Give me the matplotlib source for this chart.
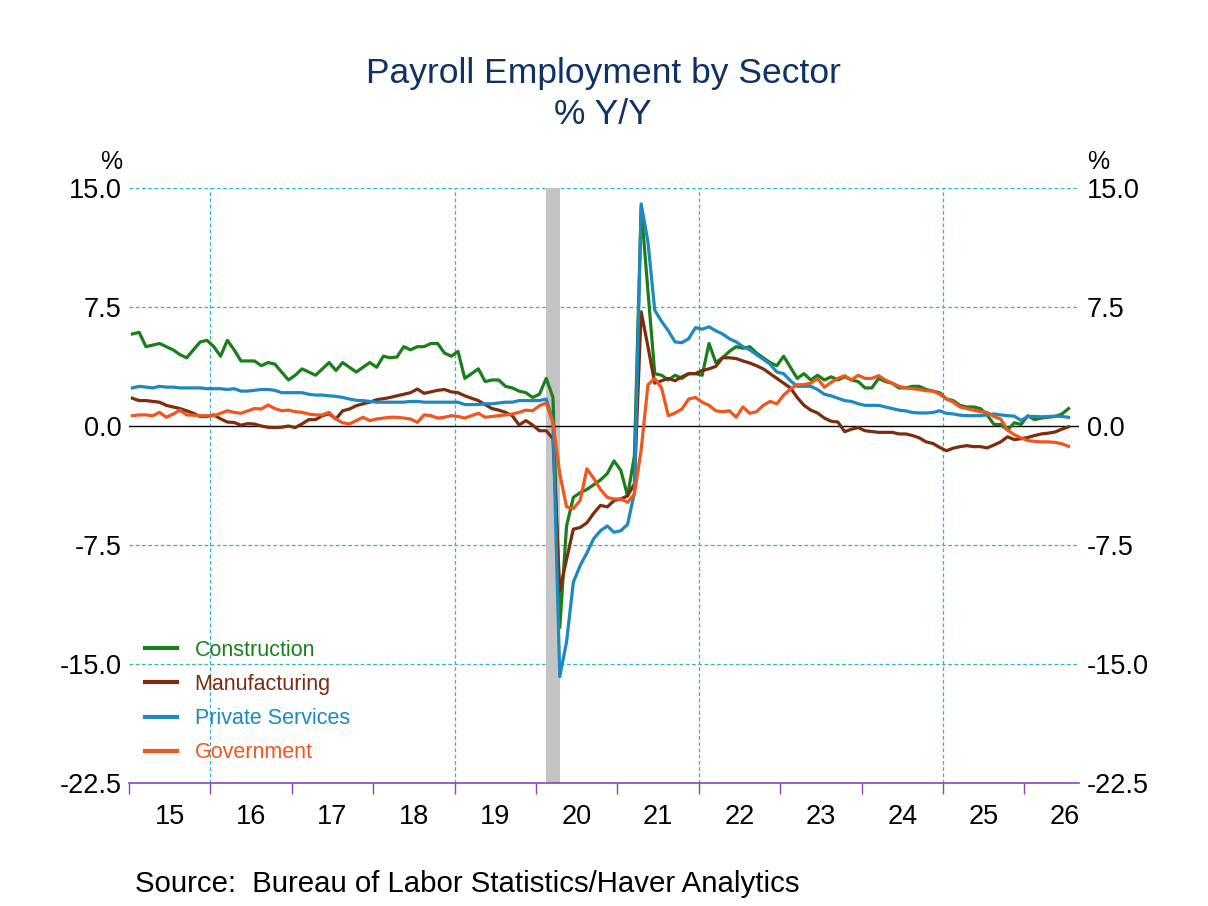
import numpy as np
import matplotlib
matplotlib.use("Agg")
import matplotlib.pyplot as plt
from matplotlib.ticker import FixedLocator, FuncFormatter, NullFormatter

plt.rcParams["font.family"] = ["Liberation Sans", "DejaVu Sans"]
plt.rcParams["axes.unicode_minus"] = False

# Monthly % Y/Y, Jan 2015 .. Jul 2026 (one row per year)
construction = [
    5.8, 5.9, 5.0, 5.1, 5.2, 5.0, 4.8, 4.5, 4.3, 4.8, 5.3, 5.4,
    5.0, 4.4, 5.4, 4.8, 4.1, 4.1, 4.1, 3.8, 4.0, 3.9, 3.4, 2.9,
    3.2, 3.6, 3.4, 3.2, 3.6, 4.0, 3.5, 4.0, 3.7, 3.4, 3.7, 4.0,
    3.7, 4.4, 4.3, 4.35, 5.0, 4.8, 5.0, 5.0, 5.2, 5.2, 4.6, 4.4,
    4.7, 3.0, 3.3, 3.6, 2.8, 2.9, 2.9, 2.5, 2.4, 2.2, 2.1, 1.8,
    2.0, 3.0, 1.8, -12.7, -6.3, -4.5, -4.2, -4.0, -3.7, -3.4, -3.0, -2.2,
    -2.8, -4.4, -1.9, 13.8, 8.5, 3.3, 3.2, 2.9, 3.2, 3.0, 3.3, 3.3,
    3.2, 5.2, 4.0, 4.3, 4.7, 5.0, 4.9, 5.0, 4.6, 4.3, 4.0, 3.8,
    4.4, 3.7, 3.0, 3.3, 2.9, 3.2, 2.9, 3.1, 2.9, 3.1, 2.9, 2.8,
    2.4, 2.4, 3.0, 2.8, 2.7, 2.4, 2.4, 2.5, 2.5, 2.3, 2.2, 2.1,
    1.7, 1.6, 1.3, 1.2, 1.2, 1.1, 0.7, 0.1, 0.1, -0.25, 0.2, 0.1,
    0.65, 0.4, 0.5, 0.55, 0.6, 0.75, 1.1,
]
manufacturing = [
    1.75, 1.6, 1.6, 1.55, 1.5, 1.3, 1.2, 1.1, 0.96, 0.8, 0.6, 0.6,
    0.7, 0.45, 0.25, 0.22, 0.05, 0.15, 0.12, 0.0, -0.08, -0.1, -0.08, 0.0,
    -0.1, 0.13, 0.4, 0.4, 0.65, 0.77, 0.44, 0.96, 1.07, 1.28, 1.4, 1.5,
    1.66, 1.72, 1.8, 1.9, 2.0, 2.1, 2.33, 2.06, 2.15, 2.25, 2.3, 2.15,
    2.1, 1.9, 1.75, 1.6, 1.35, 1.1, 1.0, 0.86, 0.65, 0.06, 0.34, 0.06,
    -0.3, -0.3, -0.8, -10.4, -8.4, -6.5, -6.4, -6.1, -5.5, -5.0, -5.1, -4.7,
    -4.6, -4.4, -3.65, 7.2, 5.0, 2.7, 2.85, 3.0, 2.85, 3.1, 3.3, 3.3,
    3.5, 3.6, 3.76, 4.3, 4.3, 4.25, 4.1, 3.97, 3.8, 3.6, 3.3, 3.0,
    2.7, 2.4, 1.8, 1.3, 1.0, 0.82, 0.5, 0.3, 0.25, -0.36, -0.2, -0.1,
    -0.3, -0.35, -0.4, -0.4, -0.4, -0.5, -0.5, -0.6, -0.75, -1.0, -1.1, -1.35,
    -1.56, -1.4, -1.3, -1.24, -1.3, -1.3, -1.38, -1.2, -1.0, -0.68, -0.86, -0.8,
    -0.72, -0.6, -0.5, -0.45, -0.38, -0.2, -0.05,
]
private_services = [
    2.4, 2.5, 2.45, 2.4, 2.5, 2.45, 2.45, 2.4, 2.4, 2.4, 2.4, 2.35,
    2.35, 2.35, 2.3, 2.35, 2.2, 2.2, 2.25, 2.3, 2.3, 2.25, 2.1, 2.1,
    2.1, 2.1, 2.0, 1.95, 1.95, 1.9, 1.87, 1.8, 1.7, 1.62, 1.6, 1.55,
    1.5, 1.5, 1.5, 1.5, 1.5, 1.55, 1.55, 1.5, 1.5, 1.5, 1.5, 1.5,
    1.5, 1.35, 1.35, 1.35, 1.4, 1.4, 1.45, 1.5, 1.5, 1.6, 1.6, 1.6,
    1.6, 1.7, 0.3, -15.8, -13.6, -9.85, -8.8, -8.0, -7.1, -6.6, -6.3, -6.7,
    -6.6, -6.2, -4.2, 14.0, 11.6, 7.3, 6.6, 6.0, 5.3, 5.25, 5.5, 6.2,
    6.1, 6.25, 6.0, 5.8, 5.5, 5.3, 5.0, 4.8, 4.5, 4.2, 3.9, 3.4,
    3.3, 2.85, 2.5, 2.5, 2.5, 2.3, 2.0, 1.9, 1.75, 1.6, 1.55, 1.4,
    1.3, 1.3, 1.3, 1.2, 1.1, 1.0, 0.95, 0.85, 0.82, 0.82, 0.85, 0.96,
    0.8, 0.76, 0.68, 0.65, 0.65, 0.65, 0.7, 0.76, 0.7, 0.65, 0.62, 0.35,
    0.6, 0.6, 0.58, 0.6, 0.62, 0.6, 0.55,
]
government = [
    0.65, 0.7, 0.7, 0.65, 0.86, 0.55, 0.75, 1.0, 0.7, 0.68, 0.65, 0.65,
    0.65, 0.8, 0.96, 0.86, 0.8, 0.95, 1.1, 1.07, 1.32, 1.1, 0.96, 1.0,
    0.9, 0.86, 0.75, 0.7, 0.7, 0.86, 0.44, 0.2, 0.13, 0.34, 0.55, 0.34,
    0.44, 0.5, 0.55, 0.55, 0.5, 0.44, 0.23, 0.7, 0.65, 0.5, 0.55, 0.65,
    0.6, 0.5, 0.65, 0.8, 0.55, 0.6, 0.65, 0.7, 0.75, 0.86, 1.0, 0.96,
    1.28, 1.45, 0.2, -3.0, -5.1, -5.2, -4.7, -2.7, -3.3, -4.0, -4.5, -4.6,
    -4.6, -4.8, -4.3, -1.5, 2.6, 3.0, 2.4, 0.65, 0.82, 1.07, 1.7, 1.8,
    1.5, 1.3, 0.96, 0.9, 0.96, 0.55, 1.2, 0.8, 0.9, 1.3, 1.55, 1.4,
    1.95, 2.33, 2.6, 2.6, 2.7, 3.0, 2.44, 2.75, 3.0, 3.17, 2.9, 3.2,
    3.0, 3.0, 3.17, 2.9, 2.7, 2.5, 2.4, 2.35, 2.3, 2.22, 2.2, 2.0,
    1.7, 1.5, 1.2, 1.1, 1.0, 0.9, 0.86, 0.6, 0.44, -0.25, -0.55, -0.75,
    -0.92, -0.97, -1.0, -1.0, -1.03, -1.12, -1.28,
]

series_names = ["Construction", "Manufacturing", "Private Services", "Government"]
series_colors = ["#1a7f1a", "#7b2d0e", "#1e88c0", "#f0561e"]

start_year = 2015
y_ticks = [15.0, 7.5, 0.0, -7.5, -15.0, -22.5]
grid_years = [2016, 2019, 2022, 2025]
year_labels = [str(y)[2:] for y in range(2015, 2027)]
recession = (2020 + 1.5 / 12, 2020 + 3.5 / 12)  # Feb-Apr 2020

n = len(construction)
x = start_year + (np.arange(n) + 0.5) / 12

fig = plt.figure(figsize=(12.08, 9.06), dpi=100)
ax = fig.add_axes([129 / 1208, 1 - 783 / 906, 950 / 1208, 595 / 906])

ax.axvspan(*recession, color="#c4c4c4", lw=0, zorder=1)

grid_kw = dict(color="#2fb4d2", lw=0.9, ls=(0, (3, 2)), zorder=0)
for v in y_ticks:
    if v not in (0.0, -22.5):
        ax.axhline(v, **grid_kw)
for yr in grid_years:
    ax.axvline(yr, **grid_kw)
ax.axhline(0, color="black", lw=1.0, zorder=2)

for vals, name, col in zip([construction, manufacturing, private_services, government],
                           series_names, series_colors):
    ax.plot(x, vals, color=col, lw=2.3, label=name, zorder=3)

ax.set_xlim(2015, 2026.67)
ax.set_ylim(-22.5, 15.0)

for side in ("top", "left", "right"):
    ax.spines[side].set_visible(False)
ax.spines["bottom"].set_color("#8a44b8")
ax.spines["bottom"].set_linewidth(1.2)

ax.yaxis.set_major_locator(FixedLocator(y_ticks))
ax.yaxis.set_major_formatter(FuncFormatter(lambda v, p: f"{v:.1f}"))
ax.tick_params(axis="y", left=False, right=False, labelleft=True, labelright=True,
               labelsize=19.5, pad=2)

ax.xaxis.set_major_locator(FixedLocator(range(2015, 2027)))
ax.xaxis.set_major_formatter(NullFormatter())
ax.xaxis.set_minor_locator(FixedLocator([y + 0.5 for y in range(2015, 2027)]))
ax.xaxis.set_minor_formatter(FuncFormatter(lambda v, p: year_labels[int(v) - 2015]))
ax.tick_params(axis="x", which="major", length=8, width=1.0, color="#8a44b8", direction="out")
ax.tick_params(axis="x", which="minor", length=0, labelsize=19.5, pad=15)

leg = ax.legend(loc="center left", bbox_to_anchor=(0.017, 0.137), frameon=False,
                fontsize=15.5, handlelength=1.5, handletextpad=0.8, labelspacing=0.61,
                borderpad=0, borderaxespad=0, labelcolor="linecolor")
for h in leg.get_lines():
    h.set_linewidth(3.0)

title_color = "#0d3263"
fig.text(603 / 1208, 1 - 73 / 906, "Payroll Employment by Sector", ha="center", va="center",
         fontsize=25.5, color=title_color)
fig.text(603 / 1208, 1 - 115 / 906, "% Y/Y", ha="center", va="center",
         fontsize=25.5, color=title_color)
fig.text(122 / 1208, 1 - 162 / 906, "%", ha="right", va="center", fontsize=18)
fig.text(1087 / 1208, 1 - 162 / 906, "%", ha="left", va="center", fontsize=18)
fig.text(135 / 1208, 1 - 884 / 906, "Source:  Bureau of Labor Statistics/Haver Analytics",
         ha="left", va="center", fontsize=21.2)

fig.savefig("out.png", dpi=100)
